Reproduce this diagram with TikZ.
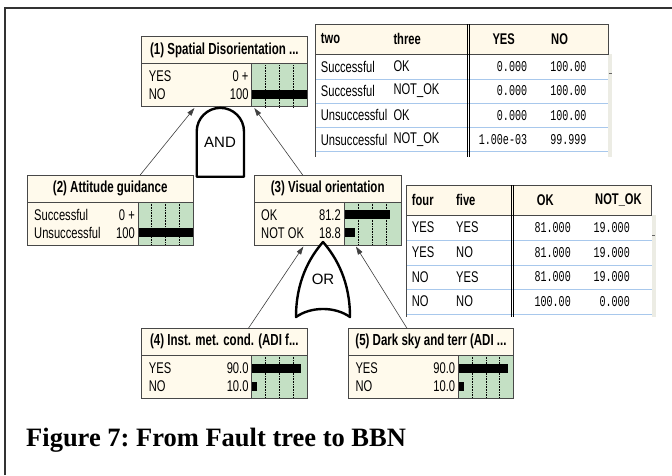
\documentclass[tikz,border=0pt]{standalone}
\usepackage{fontspec}
\usetikzlibrary{arrows.meta}
\newfontfamily\nrw[FakeStretch=0.72]{Liberation Sans}
\newfontfamily\nmono[FakeStretch=0.67]{Liberation Mono}
\newfontfamily\gatefont{Liberation Sans}
\newfontfamily\capfont{Liberation Serif}
\definecolor{nodecream}{RGB}{255,250,236}
\definecolor{hdrcream}{RGB}{255,249,234}
\definecolor{bargreen}{RGB}{196,224,196}
\definecolor{edgegray}{RGB}{72,72,72}
\definecolor{rowblue}{RGB}{168,200,236}
\definecolor{scrollgray}{RGB}{236,236,228}

% one network node: name, top left, width, start of bar area, title, rows
\newcommand{\bbnnode}[6]{%
  \node[ntitle, minimum width=#3pt, anchor=north west] (#1t) at (#2) {#5};
  \node[nbody, minimum width=#3pt, anchor=north] (#1) at (#1t.south) {};
  \fill[bargreen] ([xshift=#4pt]#1.north west) rectangle (#1.south east);
  \foreach \q in {1,2,3}
    \draw[densely dotted, line width=0.6pt] ([xshift={#4pt+\q*(#3pt-#4pt)/4}]#1.north west) -- ([xshift={#4pt+\q*(#3pt-#4pt)/4}]#1.south west);
  \foreach \rw/\lab/\val/\pc in {#6} {
    \pgfmathsetlengthmacro\ry{5pt-18pt*\rw}
    \pgfmathsetlengthmacro\bw{\pc*(#3pt-#4pt)/100}
    \node[nlab, anchor=west] (#1l\rw) at ([shift={(7pt,\ry)}]#1.north west) {\lab};
    \node[nlab, anchor=east] (#1v\rw) at ([shift={(#4pt-3pt,\ry)}]#1.north west) {\val};
    \fill ([shift={(#4pt,\ry+4.5pt)}]#1.north west) rectangle ++(\bw,-9pt);
  }
  \draw[edgegray, line width=0.8pt] (#1t.north west) rectangle (#1.south east)
    (#1t.south west) -- (#1t.south east)
    ([xshift=#4pt]#1.north west) -- ([xshift=#4pt]#1.south west);
}

\begin{document}
\begin{tikzpicture}[x=1pt, y=-1pt,
    ntitle/.style={fill=nodecream, minimum height=26.5pt, inner sep=0pt, font=\nrw\bfseries\fontsize{16}{18}\selectfont},
    nbody/.style={fill=nodecream, minimum height=43pt, inner sep=0pt},
    nlab/.style={inner sep=0pt, font=\nrw\fontsize{15.5}{17}\selectfont},
    thead/.style={anchor=west, inner sep=0pt, font=\nrw\bfseries\fontsize{15.5}{17}\selectfont},
    tcell/.style={anchor=west, inner sep=0pt, font=\nrw\fontsize{15.5}{17}\selectfont},
    tnum/.style={anchor=east, inner sep=0pt, font=\nmono\fontsize{15}{17}\selectfont},
    rowline/.style={draw=rowblue, line width=0.8pt},
    gate/.style={draw=black, fill=white, line width=2.4pt, line join=round},
    gatetxt/.style={inner sep=0pt, font=\gatefont\fontsize{15}{17}\selectfont},
    arr/.style={-{Triangle[length=8pt,width=5pt]}, draw=black!75, line width=0.6pt, shorten >=1.5pt}]
  \fill[white] (0,0) rectangle (672,475);
  \useasboundingbox (0,0) rectangle (672,475);
  \draw[line width=2pt, black!80] (5,475) -- (5,8) -- (672,8);

  \bbnnode{n1}{141.7,36.5}{165}{110}{(1) Spatial Disorientation ...}{1/YES/0 +/0, 2/NO/100/100}
  \bbnnode{n2}{27,175}{166}{111}{(2) Attitude guidance}{1/Successful/0 +/0, 2/Unsuccessful/100/100}
  \bbnnode{n3}{254,175}{147}{90}{(3) Visual orientation}{1/OK/81.2/81.2, 2/NOT OK/18.8/18.8}
  \bbnnode{n4}{141.7,328.3}{165}{110}{(4) Inst. met. cond. (ADI f...}{1/YES/90.0/90, 2/NO/10.0/10}
  \bbnnode{n5}{348.3,328.3}{165}{110}{(5) Dark sky and terr (ADI ...}{1/YES/90.0/90, 2/NO/10.0/10}

  \draw[arr] ([xshift=30pt]n2t.north) -- ([xshift=-29pt]n1.south);
  \draw[arr] ([xshift=-25pt]n3t.north) -- ([xshift=29pt]n1.south);
  \draw[arr] ([xshift=24pt]n4t.north) -- ([xshift=-23.5pt]n3.south);
  \draw[arr] ([xshift=-24pt]n5t.north) -- ([xshift=27.5pt]n3.south);

  \draw[gate] (196.7,176.7) -- (196.7,131.5) arc[start angle=180, end angle=0, radius=23.65pt] -- (244,176.7) -- cycle;
  \node[gatetxt] (andg) at (220,142) {AND};
  \draw[gate] (296,317) .. controls (296,282) and (309,258) .. (323,242)
    .. controls (337,258) and (350,282) .. (350,317)
    .. controls (335,306.3) and (311,306.3) .. (296,317) -- cycle;
  \node[gatetxt] (org) at (323,279) {OR};

  % table of (1)
  \fill[scrollgray] (608,54) rectangle (612,157);
  \draw[black!60, line width=1pt] (608.5,73) -- (611.5,73);
  \foreach \y in {79.3,103.3,127.3,151.7} \draw[rowline] (315.7,\y) -- (608,\y);
  \filldraw[fill=hdrcream, draw=edgegray, line width=0.8pt] (315.7,24) rectangle (608,54);
  \draw[edgegray, line width=0.8pt] (315.7,54) -- (315.7,157);
  \draw[line width=0.8pt] (467.3,24) -- (467.3,157) (469.6,24) -- (469.6,157);
  \node[thead] (t1h1) at (320.7,39) {two};
  \node[thead] (t1h2) at (393.3,39) {three};
  \node[thead] (t1h3) at (492.3,39) {YES};
  \node[thead] (t1h4) at (551,39) {NO};
  \foreach \fa/\fb/\fc/\fd [count=\i] in {Successful/OK/0.000/100.00, Successful/NOT\_OK/0.000/100.00, Unsuccessful/OK/0.000/100.00, Unsuccessful/NOT\_OK/1.00e-03/99.999} {
    \node[tcell] (t1a\i) at (320.7,42.3+24.3*\i) {\fa};
    \node[tcell] (t1b\i) at (393.3,42.3+24.3*\i) {\fb};
    \node[tnum] (t1c\i) at (527.3,42.3+24.3*\i) {\fc};
    \node[tnum] (t1d\i) at (586.7,42.3+24.3*\i) {\fd};
  }

  % table of (3)
  \fill[scrollgray] (651.7,215) rectangle (655.5,316.7);
  \draw[black!60, line width=1pt] (652.2,235) -- (655,235);
  \foreach \y in {240,265,289.3,314} \draw[rowline] (406.7,\y) -- (651.7,\y);
  \filldraw[fill=hdrcream, draw=edgegray, line width=0.8pt] (406.7,185) rectangle (651.7,215);
  \draw[edgegray, line width=0.8pt] (406.7,215) -- (406.7,316.7);
  \draw[line width=0.8pt] (511.2,185) -- (511.2,316.7) (513.5,185) -- (513.5,316.7);
  \node[thead] (t2h1) at (411.7,200) {four};
  \node[thead] (t2h2) at (456,200) {five};
  \node[thead] (t2h3) at (536.7,200) {OK};
  \node[thead] (t2h4) at (595,200) {NOT\_OK};
  \foreach \fa/\fb/\fc/\fd [count=\i] in {YES/YES/81.000/19.000, YES/NO/81.000/19.000, NO/YES/81.000/19.000, NO/NO/100.00/0.000} {
    \node[tcell] (t2a\i) at (411.7,202.8+24.7*\i) {\fa};
    \node[tcell] (t2b\i) at (456,202.8+24.7*\i) {\fb};
    \node[tnum] (t2c\i) at (571,202.8+24.7*\i) {\fc};
    \node[tnum] (t2d\i) at (630,202.8+24.7*\i) {\fd};
  }

  \node[anchor=base west, inner sep=0pt, font=\capfont\bfseries\fontsize{26.5}{30}\selectfont\frenchspacing] (cap) at (26,446.7) {Figure 7: From Fault tree to BBN};
\end{tikzpicture}
\end{document}
